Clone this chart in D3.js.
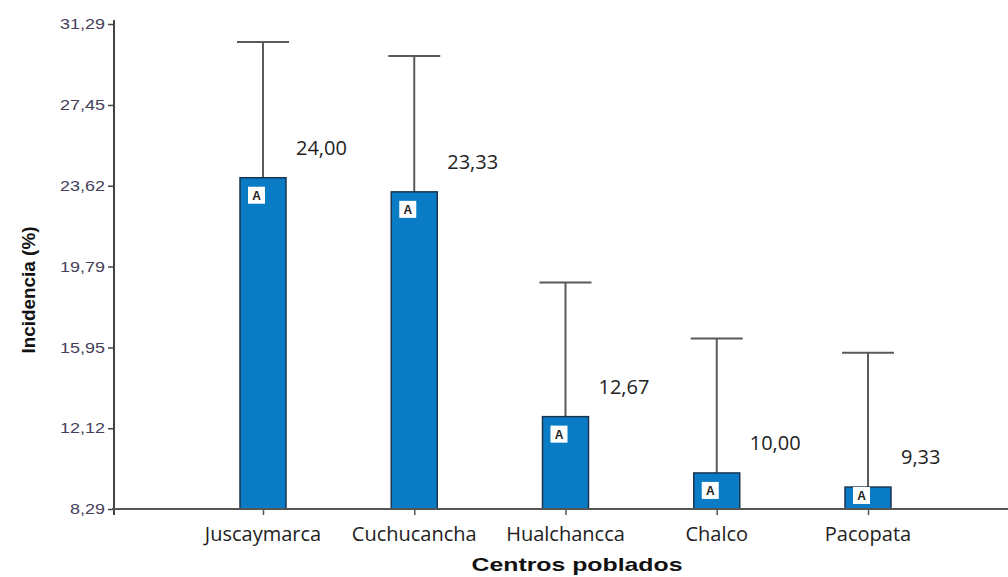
<!DOCTYPE html>
<html><head><meta charset="utf-8">
<script src="https://cdn.jsdelivr.net/npm/d3@7"></script>
<style>body{margin:0;background:#fff;}svg{display:block;}</style>
</head><body>
<script>
const categories = ["Juscaymarca","Cuchucancha","Hualchancca","Chalco","Pacopata"];
const values = [24.00, 23.33, 12.67, 10.00, 9.33];
const valueLabels = ["24,00","23,33","12,67","10,00","9,33"];
const errorTops = [30.44, 29.77, 19.03, 16.37, 15.70];
const groups = ["A","A","A","A","A"];
const yTicks = [8.29, 12.12, 15.95, 19.79, 23.62, 27.45, 31.29];

const W = 1008, H = 577;
const svg = d3.select("body").append("svg").attr("width", W).attr("height", H);
const x0 = 114, yBottom = 509, yTop = 24;
const y = d3.scaleLinear().domain([8.29, 31.29]).range([yBottom, yTop]);
const x = d3.scalePoint().domain(categories).range([263, 868]);
const bw = 46;

categories.forEach((c, i) => {
  const cx = x(c);
  const top = y(values[i]);
  svg.append("line").attr("x1", cx).attr("x2", cx).attr("y1", y(errorTops[i])).attr("y2", top)
    .attr("stroke", "#5a5a5a").attr("stroke-width", 2);
  svg.append("line").attr("x1", cx - 26).attr("x2", cx + 26).attr("y1", y(errorTops[i])).attr("y2", y(errorTops[i]))
    .attr("stroke", "#5a5a5a").attr("stroke-width", 2);
  svg.append("rect").attr("x", cx - bw/2).attr("y", top).attr("width", bw).attr("height", yBottom - top)
    .attr("fill", "#0a7cc6").attr("stroke", "#1b3550").attr("stroke-width", 1.5);
  const by = Math.min(top + 9, yBottom - 22);
  svg.append("rect").attr("x", cx - bw/2 + 8).attr("y", by).attr("width", 17).attr("height", 17)
    .attr("fill", "#fff");
  svg.append("text").attr("x", cx - bw/2 + 16.5).attr("y", by + 13).attr("text-anchor", "middle")
    .attr("font-family", "Arial, Liberation Sans, sans-serif").attr("font-weight", "bold").attr("font-size", 12)
    .attr("fill", "#222").text(groups[i]);
  svg.append("text").attr("x", cx + 33).attr("y", top - 23)
    .attr("font-family", "Open Sans, DejaVu Sans, sans-serif").attr("font-size", 20)
    .attr("fill", "#222").text(valueLabels[i]);
});

// y axis
const yAxis = d3.axisLeft(y).tickValues(yTicks).tickSize(6).tickSizeOuter(0)
  .tickFormat(d => d3.format(".2f")(d).replace(".", ","));
const gy = svg.append("g").attr("transform", `translate(${x0},0)`).call(yAxis);
gy.select(".domain").attr("stroke", "#444").attr("stroke-width", 2).attr("d", `M0,${yTop-4}V${yBottom+6}`);
gy.selectAll(".tick line").attr("stroke", "#444").attr("stroke-width", 1.5);
gy.selectAll(".tick text").attr("font-family", "Arial, Liberation Sans, sans-serif").attr("font-size", 14.5)
  .attr("fill", "#45405a").attr("x", -9)
  .attr("textLength", d => d < 10 ? 35 : 45).attr("lengthAdjust", "spacingAndGlyphs");

// x axis
const xAxis = d3.axisBottom(x).tickSize(6).tickSizeOuter(0).tickFormat("");
const gx = svg.append("g").attr("transform", `translate(0,${yBottom})`).call(xAxis);
gx.select(".domain").attr("stroke", "#555").attr("stroke-width", 2).attr("d", `M${x0-2},0H${W}`);
gx.selectAll(".tick line").attr("stroke", "#555").attr("stroke-width", 1.5);
categories.forEach(c => {
  svg.append("text").attr("x", x(c)).attr("y", 541).attr("text-anchor", "middle")
    .attr("font-family", "Open Sans, DejaVu Sans, sans-serif").attr("font-size", 20)
    .attr("fill", "#222").text(c);
});

svg.append("text").attr("x", 577).attr("y", 571).attr("text-anchor", "middle")
  .attr("font-family", "Arial, Liberation Sans, sans-serif").attr("font-weight", "bold").attr("font-size", 19)
  .attr("textLength", 211).attr("lengthAdjust", "spacingAndGlyphs")
  .attr("fill", "#111").text("Centros poblados");
svg.append("text").attr("transform", "translate(35,290) rotate(-90)").attr("text-anchor", "middle")
  .attr("font-family", "Arial, Liberation Sans, sans-serif").attr("font-weight", "bold").attr("font-size", 19)
  .attr("textLength", 127).attr("lengthAdjust", "spacingAndGlyphs")
  .attr("fill", "#111").text("Incidencia (%)");
</script>
</body></html>
